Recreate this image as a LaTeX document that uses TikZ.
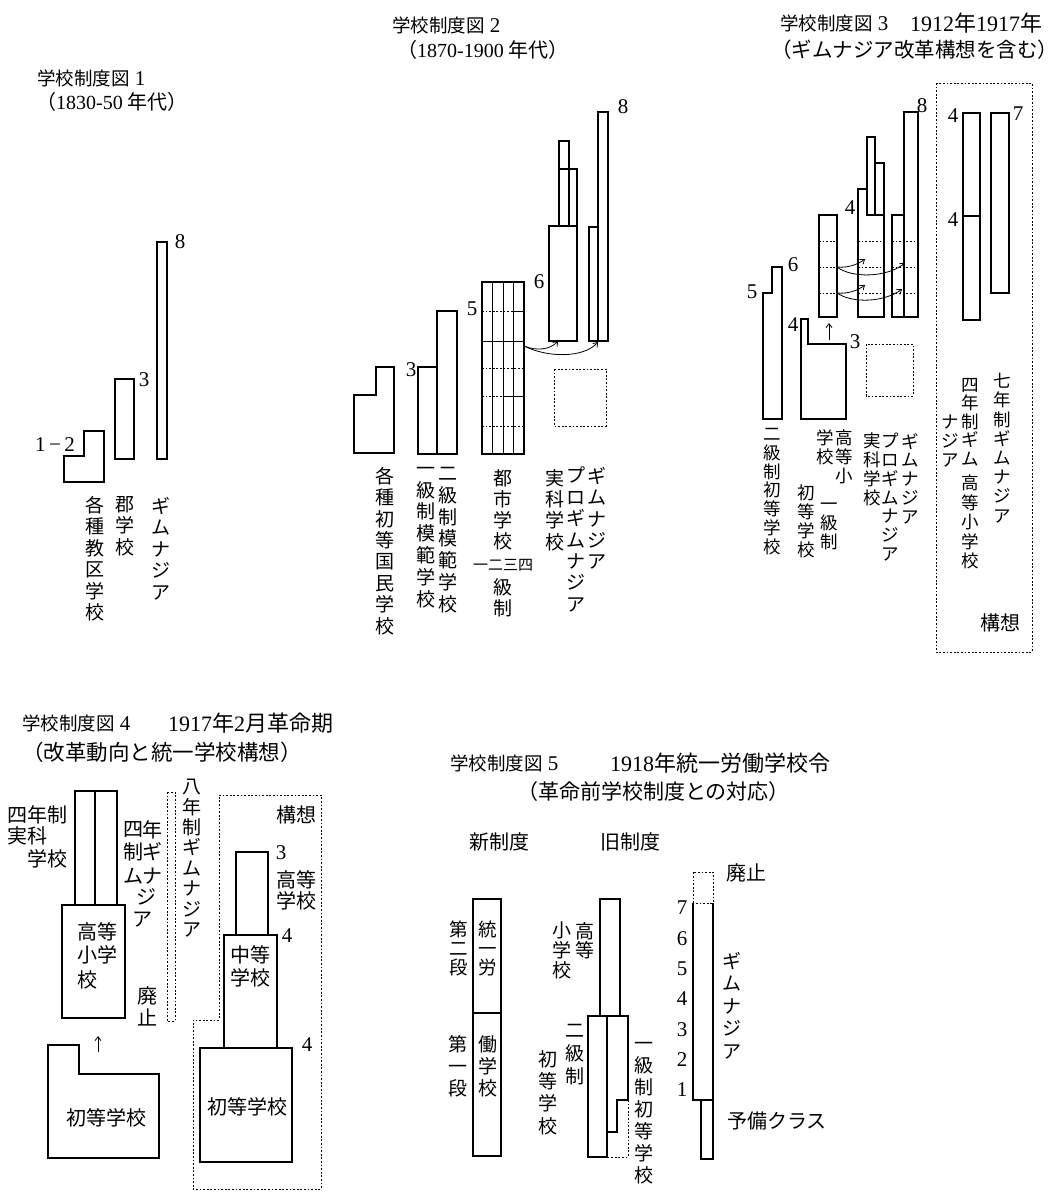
\documentclass[tikz,border=0pt]{standalone}
\usepackage{fontspec}
\setmainfont{Liberation Serif}
\newfontfamily\jp{Noto Sans CJK JP}
\usetikzlibrary{arrows.meta}
\newcommand\Ts[1]{{\jp\fontsize{18.5}{20}\selectfont #1}}
\newcommand\Tl[1]{{\jp #1}}
\tikzset{
  bar/.style={draw, line width=1.2pt, line join=miter},
  thin/.style={draw, line width=0.9pt},
  dotl/.style={draw, line width=0.9pt, dash pattern=on 1.8pt off 1.8pt},
  vt/.style n args={2}{inner sep=0pt, anchor=north, align=center, font=\jp\fontsize{#1}{#2}\selectfont, execute at begin node=\vphantom{国}},
  num/.style={inner sep=0pt, font=\fontsize{21}{22}\selectfont},
  jl/.style={inner sep=0pt, font=\jp\fontsize{20}{22}\selectfont},
  ttl/.style={inner sep=0pt, anchor=west, font=\fontsize{21}{24}\selectfont},
  ttlb/.style={inner sep=0pt, anchor=west, font=\jp\fontsize{#1}{24}\selectfont},
  arr/.style={line width=0.8pt, -{Straight Barb[length=4pt,width=6pt]}},
}
\begin{document}
\begin{tikzpicture}[x=1pt,y=-1pt]
\fill[white] (0,0) rectangle (1057,1198);
\useasboundingbox (0,0) rectangle (1057,1198);

% ================= Figure 1 =================
\node[ttl] (t1a) at (37,78) {\Ts{学校制度図} 1};
\node[ttl, font=\fontsize{20}{24}\selectfont] (t1b) at (36,102) {\Tl{（}1830-50 \Tl{年代）}};
\draw[bar] (84,431) -- (104,431) -- (104,482) -- (64,482) -- (64,456) -- (84,456) -- cycle;
\draw[bar] (115,379) rectangle (134,459);
\draw[bar] (157,242) rectangle (167,459);
\node[num] (n1a) at (55,445) {1\,−\,2};
\node[num] (n1b) at (144,380) {3};
\node[num] (n1c) at (180,242) {8};
\node[vt={19}{21.5}] (l1a) at (95,496) {各\\種\\教\\区\\学\\校};
\node[vt={19}{21.5}] (l1b) at (125,496) {郡\\学\\校};
\node[vt={19}{21.5}] (l1c) at (161,497) {ギ\\ム\\ナ\\ジ\\ア};

% ================= Figure 2 =================
\node[ttl] (t2a) at (392,25) {\Ts{学校制度図} 2};
\node[ttl, font=\fontsize{20}{24}\selectfont] (t2b) at (397,50) {\Tl{（}1870-1900 \Tl{年代）}};
\draw[bar] (376,367) -- (394,367) -- (394,453) -- (354,453) -- (354,395) -- (376,395) -- cycle;
\draw[bar] (418,367) rectangle (437,454);
\draw[bar] (437,311) rectangle (457,454);
\node[num] (n2a) at (411,370) {3};
% city school grid
\draw[bar] (482,282) rectangle (524,454);
\foreach \x in {492,503,513} \draw[thin] (\x,282) -- (\x,454);
\draw[dotl] (482,311) -- (513,311); \draw[thin] (513,311) -- (524,311);
\draw[thin] (482,341) -- (524,341);
\draw[dotl] (482,368) -- (524,368);
\draw[dotl] (482,396) -- (503,396); \draw[thin] (503,396) -- (524,396);
\draw[dotl] (482,426) -- (524,426);
\node[num] (n2b) at (472,309) {5};
% realschule
\draw[bar] (549,226) rectangle (577,341);
\draw[bar] (559,169) rectangle (577,226);
\draw[bar] (559,141) rectangle (569,226);
\node[num] (n2c) at (539,282) {6};
% gymnasium
\draw[bar] (589,227) rectangle (598,341);
\draw[bar] (598,112) rectangle (608,341);
\node[num] (n2d) at (623,107) {8};
\draw[dotl] (554,369) rectangle (606,426);
\coordinate (a2s) at (524,346);
\coordinate (a2e1) at (558,341);
\coordinate (a2e2) at (598,342);
\draw[arr] (a2s) .. controls (536,351) and (550,350) .. (a2e1);
\draw[arr] (a2s) .. controls (548,358) and (584,358) .. (a2e2);
\node[vt={19}{21.4}] (l2a) at (385,467) {各\\種\\初\\等\\国\\民\\学\\校};
\node[vt={19}{21.8}] (l2b) at (426,467) {一\\級\\制\\模\\範\\学\\校};
\node[vt={19}{21.8}] (l2c) at (448,467) {二\\級\\制\\模\\範\\学\\校};
\node[vt={19}{21}] (l2d) at (503,469) {都\\市\\学\\校};
\node[inner sep=0pt, font=\jp\fontsize{15}{15}\selectfont] (l2e) at (503,565) {一二三四};
\node[vt={19}{21}] (l2f) at (503,578) {級\\制};
\node[vt={19}{21.4}] (l2g) at (555,469) {実\\科\\学\\校};
\node[vt={19}{21.4}] (l2h) at (576,467) {プ\\ロ\\ギ\\ム\\ナ\\ジ\\ア};
\node[vt={19}{21.4}] (l2i) at (597,467) {ギ\\ム\\ナ\\ジ\\ア};

% ================= Figure 3 =================
\node[ttl] (t3a) at (780,23) {\Ts{学校制度図} 3};
\node[ttl, font=\fontsize{22}{24}\selectfont] (t3b) at (910,23) {1912\Tl{年}1917\Tl{年}};
\node[ttlb=20.5] (t3c) at (771,50) {（ギムナジア改革構想を含む）};
\draw[dotl] (936,83) rectangle (1032,652);
\draw[bar] (963,113) rectangle (980,320);
\draw[bar] (963,216) -- (980,216);
\draw[bar] (991,113) rectangle (1009,293);
\node[num] (n3a) at (953,116) {4};
\node[num] (n3b) at (953,220) {4};
\node[num] (n3c) at (1018,114) {7};
% bar A
\draw[bar] (819,215) rectangle (837,317);
% bar B
\draw[bar] (858,317) -- (858,189) -- (867,189) -- (867,137) -- (875,137) -- (875,163) -- (884,163) -- (884,317) -- cycle;
\draw[bar] (867,189) -- (867,215) -- (884,215);
\draw[bar] (875,163) -- (875,215);
% bar C
\draw[bar] (892,215) rectangle (904,317);
\draw[bar] (904,112) rectangle (918,317);
\foreach \y in {241,267,293} {
  \draw[dotl] (819,\y) -- (837,\y);
  \draw[dotl] (858,\y) -- (884,\y);
  \draw[dotl] (892,\y) -- (918,\y);
}
\node[num] (n3d) at (922,106) {8};
\node[num] (n3e) at (850,208) {4};
\node[num] (n3f) at (793,265) {6};
\node[num] (n3g) at (752,292) {5};
\node[num] (n3h) at (793,325) {4};
\node[num] (n3i) at (855,342) {3};
\coordinate (A1) at (837,267);
\coordinate (A2) at (837,293);
\coordinate (B1) at (865,259);
\coordinate (C1) at (905,263);
\coordinate (B2) at (865,285);
\coordinate (C2) at (902,289);
\draw[arr] (A1) .. controls (847,268) and (857,265) .. (B1);
\draw[arr] (A1) .. controls (853,279) and (888,277) .. (C1);
\draw[arr] (A2) .. controls (847,294) and (857,291) .. (B2);
\draw[arr] (A2) .. controls (853,304) and (885,302) .. (C2);
\coordinate (U1) at (829,340);
\coordinate (U2) at (829,323);
\draw[arr] (U1) -- (U2);
\draw[bar] (801,419) -- (801,319) -- (808,319) -- (808,344) -- (846,344) -- (846,419) -- cycle;
\draw[bar] (763,419) -- (763,293) -- (772,293) -- (772,267) -- (782,267) -- (782,419) -- cycle;
\draw[dotl] (866,344) rectangle (913,396);
\node[vt={17.5}{18.8}] (l3a) at (772,428) {二\\級\\制\\初\\等\\学\\校};
\node[vt={17.5}{18.8}] (l3b) at (844,430) {高\\等\\小};
\node[vt={17.5}{18.8}] (l3c) at (825,430) {学\\校};
\node[vt={17.5}{18.8}] (l3d) at (806,485) {初\\等\\学\\校};
\node[vt={17.5}{18.8}] (l3e) at (829,503) {一\\級\\制};
\node[vt={17.5}{18.8}] (l3f) at (872,433) {実\\科\\学\\校};
\node[vt={17.5}{18.8}] (l3g) at (890,433) {プ\\ロ\\ギ\\ム\\ナ\\ジ\\ア};
\node[vt={17.5}{18.8}] (l3h) at (910,433) {ギ\\ム\\ナ\\ジ\\ア};
\node[vt={17.5}{19.2}] (l3i) at (1002,373) {七\\年\\制\\ギ\\ム\\ナ\\ジ\\ア};
\node[vt={17.5}{18.5}] (l3j) at (970,378) {四\\年\\制\\ギ\\ム};
\node[vt={17.5}{19}] (l3k) at (950,415) {ナ\\ジ\\ア};
\node[vt={17.5}{19.5}] (l3l) at (970,475) {高\\等\\小\\学\\校};
\node[jl] (l3m) at (1000,623) {構想};

% ================= Figure 4 =================
\node[ttl] (t4a) at (22,723) {\Ts{学校制度図} 4};
\node[ttl, font=\fontsize{22}{24}\selectfont] (t4b) at (168,723) {1917\Tl{年}2\Tl{月革命期}};
\node[ttlb=21.5] (t4c) at (22,752) {（改革動向と統一学校構想）};
\draw[bar] (75,791) rectangle (117,905);
\draw[bar] (95,791) -- (95,905);
\draw[bar] (62,905) rectangle (125,1018);
\node[jl, anchor=west] (l4a) at (77,932) {高等};
\node[jl, anchor=west] (l4b) at (77,955) {小学};
\node[jl, anchor=west] (l4c) at (77,980) {校};
\node[jl, anchor=west] (l4d) at (7,815) {四年制};
\node[jl, anchor=west] (l4e) at (7,836) {実科};
\node[jl, anchor=west] (l4f) at (27,859) {学校};
\node[jl] (c1) at (133,830) {四}; \node[jl] (c2) at (152,830) {年};
\node[jl] (c3) at (133,852) {制}; \node[jl] (c4) at (152,852) {ギ};
\node[jl] (c5) at (133,876) {ム}; \node[jl] (c6) at (152,876) {ナ};
\node[jl] (c7) at (146,897) {ジ};
\node[jl] (c8) at (142,920) {ア};
\draw[dotl] (167,792) rectangle (175,1021);
\node[vt={19}{20.4}] (l4g) at (192,779) {八\\年\\制\\ギ\\ム\\ナ\\ジ\\ア};
\node[jl] (l4h) at (147,996) {廃};
\node[jl] (l4i) at (147,1017) {止};
\draw[dotl] (219,795) -- (321,795) -- (321,1189) -- (193,1189) -- (193,1020) -- (219,1020) -- cycle;
\node[jl] (l4j) at (296,815) {構想};
\draw[bar] (236,852) rectangle (268,935);
\node[num] (n4a) at (281,853) {3};
\node[jl] (l4k) at (296,880) {高等};
\node[jl] (l4l) at (296,901) {学校};
\node[num] (n4b) at (287,936) {4};
\draw[bar] (224,935) rectangle (277,1048);
\node[jl] (l4m) at (250,955) {中等};
\node[jl] (l4n) at (250,978) {学校};
\draw[bar] (200,1048) rectangle (292,1162);
\node[num] (n4c) at (307,1045) {4};
\node[jl] (l4o) at (247,1107) {初等学校};
\draw[bar] (48,1158) -- (48,1045) -- (79,1045) -- (79,1074) -- (159,1074) -- (159,1158) -- cycle;
\node[jl] (l4p) at (106,1118) {初等学校};
\coordinate (U3) at (98,1052);
\coordinate (U4) at (98,1036);
\draw[arr] (U3) -- (U4);

% ================= Figure 5 =================
\node[ttl] (t5a) at (450,763) {\Ts{学校制度図} 5};
\node[ttl, font=\fontsize{22}{24}\selectfont] (t5b) at (610,763) {1918\Tl{年統一労働学校令}};
\node[ttlb=21] (t5c) at (517,792) {（革命前学校制度との対応）};
\node[jl] (l5a) at (499,842) {新制度};
\node[jl] (l5b) at (630,842) {旧制度};
\draw[bar] (473,899) rectangle (501,1156);
\draw[bar] (473,1013) -- (501,1013);
\node[vt={18.5}{18.8}] (l5c) at (459,921) {第\\二\\段};
\node[vt={18.5}{18.8}] (l5d) at (488,921) {統\\一\\労};
\node[vt={19}{22}] (l5e) at (488,1035) {働\\学\\校};
\node[vt={19}{22}] (l5f) at (458,1035) {第\\一\\段};
\draw[bar] (600,899) rectangle (620,1016);
\node[vt={19}{19}] (l5g) at (585,922) {高\\等};
\node[vt={19}{20}] (l5h) at (562,922) {小\\学\\校};
\draw[bar] (588,1016) rectangle (607,1157);
\draw[bar] (607,1016) -- (628,1016) -- (628,1100) -- (617,1100) -- (617,1132) -- (607,1132);
\draw[dotl] (628,1100) -- (628,1157) -- (607,1157);
\node[vt={19}{23}] (l5i) at (575,1024) {二\\級\\制};
\node[vt={19}{22.3}] (l5j) at (548,1050) {初\\等\\学\\校};
\node[vt={19}{22}] (l5k) at (644,1042) {一\\級\\制\\初\\等\\学\\校};
\draw[dotl] (693,903) -- (693,872) -- (713,872) -- (713,903) -- cycle;
\draw[bar] (693,903) -- (693,1100) -- (713,1100);
\draw[bar] (713,903) -- (713,1159) -- (701,1159) -- (701,1100);
\foreach \d/\y in {7/908,6/939,5/969,4/999,3/1030,2/1060,1/1090}
  \node[num] (g\d) at (682,\y) {\d};
\node[vt={19}{22.5}] (l5l) at (732,952) {ギ\\ム\\ナ\\ジ\\ア};
\node[jl] (l5m) at (746,873) {廃止};
\node[jl] (l5n) at (777,1121) {予備クラス};
\end{tikzpicture}
\end{document}
